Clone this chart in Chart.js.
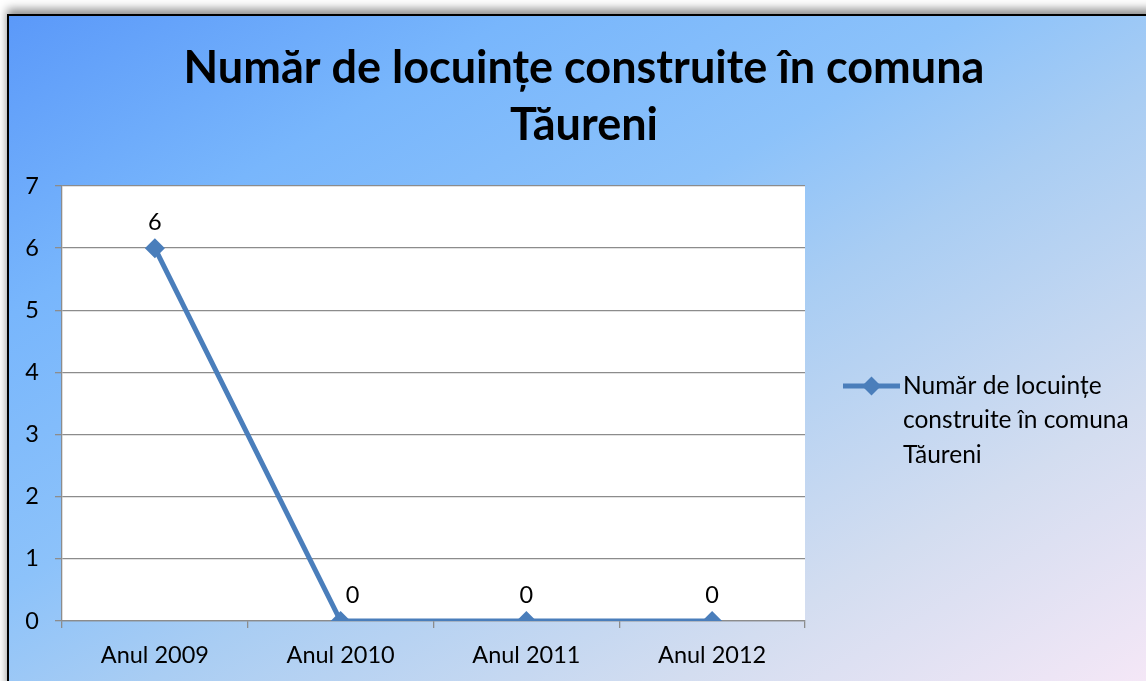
<!DOCTYPE html>
<html>
<head>
<meta charset="utf-8">
<title>Număr de locuințe construite în comuna Tăureni</title>
<script src="https://cdn.jsdelivr.net/npm/chart.js@4/dist/chart.umd.min.js"></script>
<style>
  body {
    margin: 0;
    width: 1146px;
    height: 681px;
    overflow: hidden;
    position: relative;
    background: #fff;
  }
  #frame {
    position: absolute;
    left: 7px;
    top: 14px;
    width: 1150px;
    height: 680px;
    border: 2px solid #000;
    background: linear-gradient(to bottom right, #5b99f9 0%, #78b6fc 22%, #8cc2fa 42%, #a9cdf3 55%, #d3ddf0 78%, #f7e8f7 100%);
    box-shadow: 0 -5px 9px rgba(0, 0, 0, 0.45);
  }
  #chart {
    position: absolute;
    left: 0;
    top: 0;
  }
</style>
</head>
<body>
<div id="frame"></div>
<canvas id="chart" width="1146" height="681"></canvas>
<script>
/* =================================================
  Data
==================================================== */

const chartTitle = ["Număr de locuințe construite în comuna", "Tăureni"];
const seriesName = "Număr de locuințe construite în comuna Tăureni";
const years = ["Anul 2009", "Anul 2010", "Anul 2011", "Anul 2012"];
const dwellings = [6, 0, 0, 0];
const yTicks = [0, 1, 2, 3, 4, 5, 6, 7];

const lineBlue = '#4a7ebb';
const gridGray = '#8c8c8c';
const fontFamily = 'Lato, "Open Sans", sans-serif';

/* =================================================
  Plugins: white plot area, title, value labels, legend
==================================================== */

const plotBackground = {
  id: 'plotBackground',
  beforeDraw(chart) {
    const { ctx, chartArea } = chart;
    ctx.save();
    ctx.fillStyle = '#fff';
    ctx.fillRect(chartArea.left, chartArea.top, chartArea.width, chartArea.height);
    ctx.restore();
  }
};

const titleText = {
  id: 'titleText',
  afterDraw(chart) {
    const ctx = chart.ctx;
    ctx.save();
    ctx.font = 'bold 45px ' + fontFamily;
    ctx.fillStyle = '#000';
    ctx.textAlign = 'center';
    ctx.textBaseline = 'middle';
    chartTitle.forEach((line, i) => {
      ctx.fillText(line, 584, 68 + i * 57);
    });
    ctx.restore();
  }
};

const valueLabels = {
  id: 'valueLabels',
  afterDatasetsDraw(chart) {
    const ctx = chart.ctx;
    const meta = chart.getDatasetMeta(0);
    ctx.save();
    ctx.font = '23.5px ' + fontFamily;
    ctx.fillStyle = '#000';
    ctx.textAlign = 'center';
    ctx.textBaseline = 'middle';
    meta.data.forEach((pt, i) => {
      // nudge right when the line comes down onto the point
      let dx = (i > 0 && dwellings[i - 1] > dwellings[i]) ? 12 : 0;
      ctx.fillText(String(dwellings[i]), pt.x + dx, pt.y - 26);
    });
    ctx.restore();
  }
};

const sideLegend = {
  id: 'sideLegend',
  afterDraw(chart) {
    const ctx = chart.ctx;
    const x0 = 843, x1 = 900, y = 386;
    ctx.save();
    ctx.strokeStyle = lineBlue;
    ctx.lineWidth = 5;
    ctx.beginPath();
    ctx.moveTo(x0, y);
    ctx.lineTo(x1, y);
    ctx.stroke();

    const cx = (x0 + x1) / 2, r = 9.5;
    ctx.fillStyle = lineBlue;
    ctx.beginPath();
    ctx.moveTo(cx, y - r);
    ctx.lineTo(cx + r, y);
    ctx.lineTo(cx, y + r);
    ctx.lineTo(cx - r, y);
    ctx.closePath();
    ctx.fill();

    // wrap the series name into the space right of the marker
    ctx.font = '24.5px ' + fontFamily;
    ctx.fillStyle = '#000';
    ctx.textAlign = 'left';
    ctx.textBaseline = 'middle';
    const words = seriesName.split(' ');
    let lines = [];
    let cur = '';
    words.forEach(w => {
      const test = cur ? cur + ' ' + w : w;
      if (ctx.measureText(test).width > 238 && cur) {
        lines.push(cur);
        cur = w;
      } else {
        cur = test;
      }
    });
    lines.push(cur);
    lines.forEach((l, i) => ctx.fillText(l, x1 + 3, y + i * 34.5));
    ctx.restore();
  }
};

/* =================================================
  Line chart
==================================================== */

const ctx = document.getElementById('chart');

const chartData = {
  labels: years,
  datasets: [{
    label: seriesName,
    data: dwellings,
    borderColor: lineBlue,
    backgroundColor: lineBlue,
    borderWidth: 5,
    pointStyle: 'rectRot',
    pointRadius: 10,
    pointBorderWidth: 0,
    tension: 0,
    fill: false
  }]
};

const chartOptions = {
  responsive: false,
  devicePixelRatio: 1,
  animation: false,
  layout: {
    padding: { top: 186, right: 341, left: 0, bottom: 0 }
  },
  scales: {
    x: {
      type: 'category',
      offset: true,
      grid: {
        offset: true,
        drawOnChartArea: false,
        drawTicks: true,
        tickLength: 7,
        color: gridGray,
        lineWidth: 1.3
      },
      border: { color: gridGray, width: 1.3 },
      ticks: {
        color: '#000',
        padding: 13,
        maxRotation: 0,
        font: { family: fontFamily, size: 23.5 }
      },
      afterFit(scale) {
        scale.height = 60;
      }
    },
    y: {
      min: yTicks[0],
      max: yTicks[yTicks.length - 1],
      afterBuildTicks(scale) {
        scale.ticks = yTicks.map(v => ({ value: v }));
      },
      grid: {
        color: gridGray,
        lineWidth: 1.3,
        tickLength: 7
      },
      border: { color: gridGray, width: 1.3 },
      ticks: {
        color: '#000',
        padding: 16,
        font: { family: fontFamily, size: 23.5 }
      },
      afterFit(scale) {
        scale.width = 62;
      }
    }
  },
  plugins: {
    legend: { display: false },
    title: { display: false },
    tooltip: { enabled: false }
  }
};

const lineChart = new Chart(ctx, {
  type: 'line',
  data: chartData,
  options: chartOptions,
  plugins: [plotBackground, titleText, valueLabels, sideLegend]
});
</script>
</body>
</html>
